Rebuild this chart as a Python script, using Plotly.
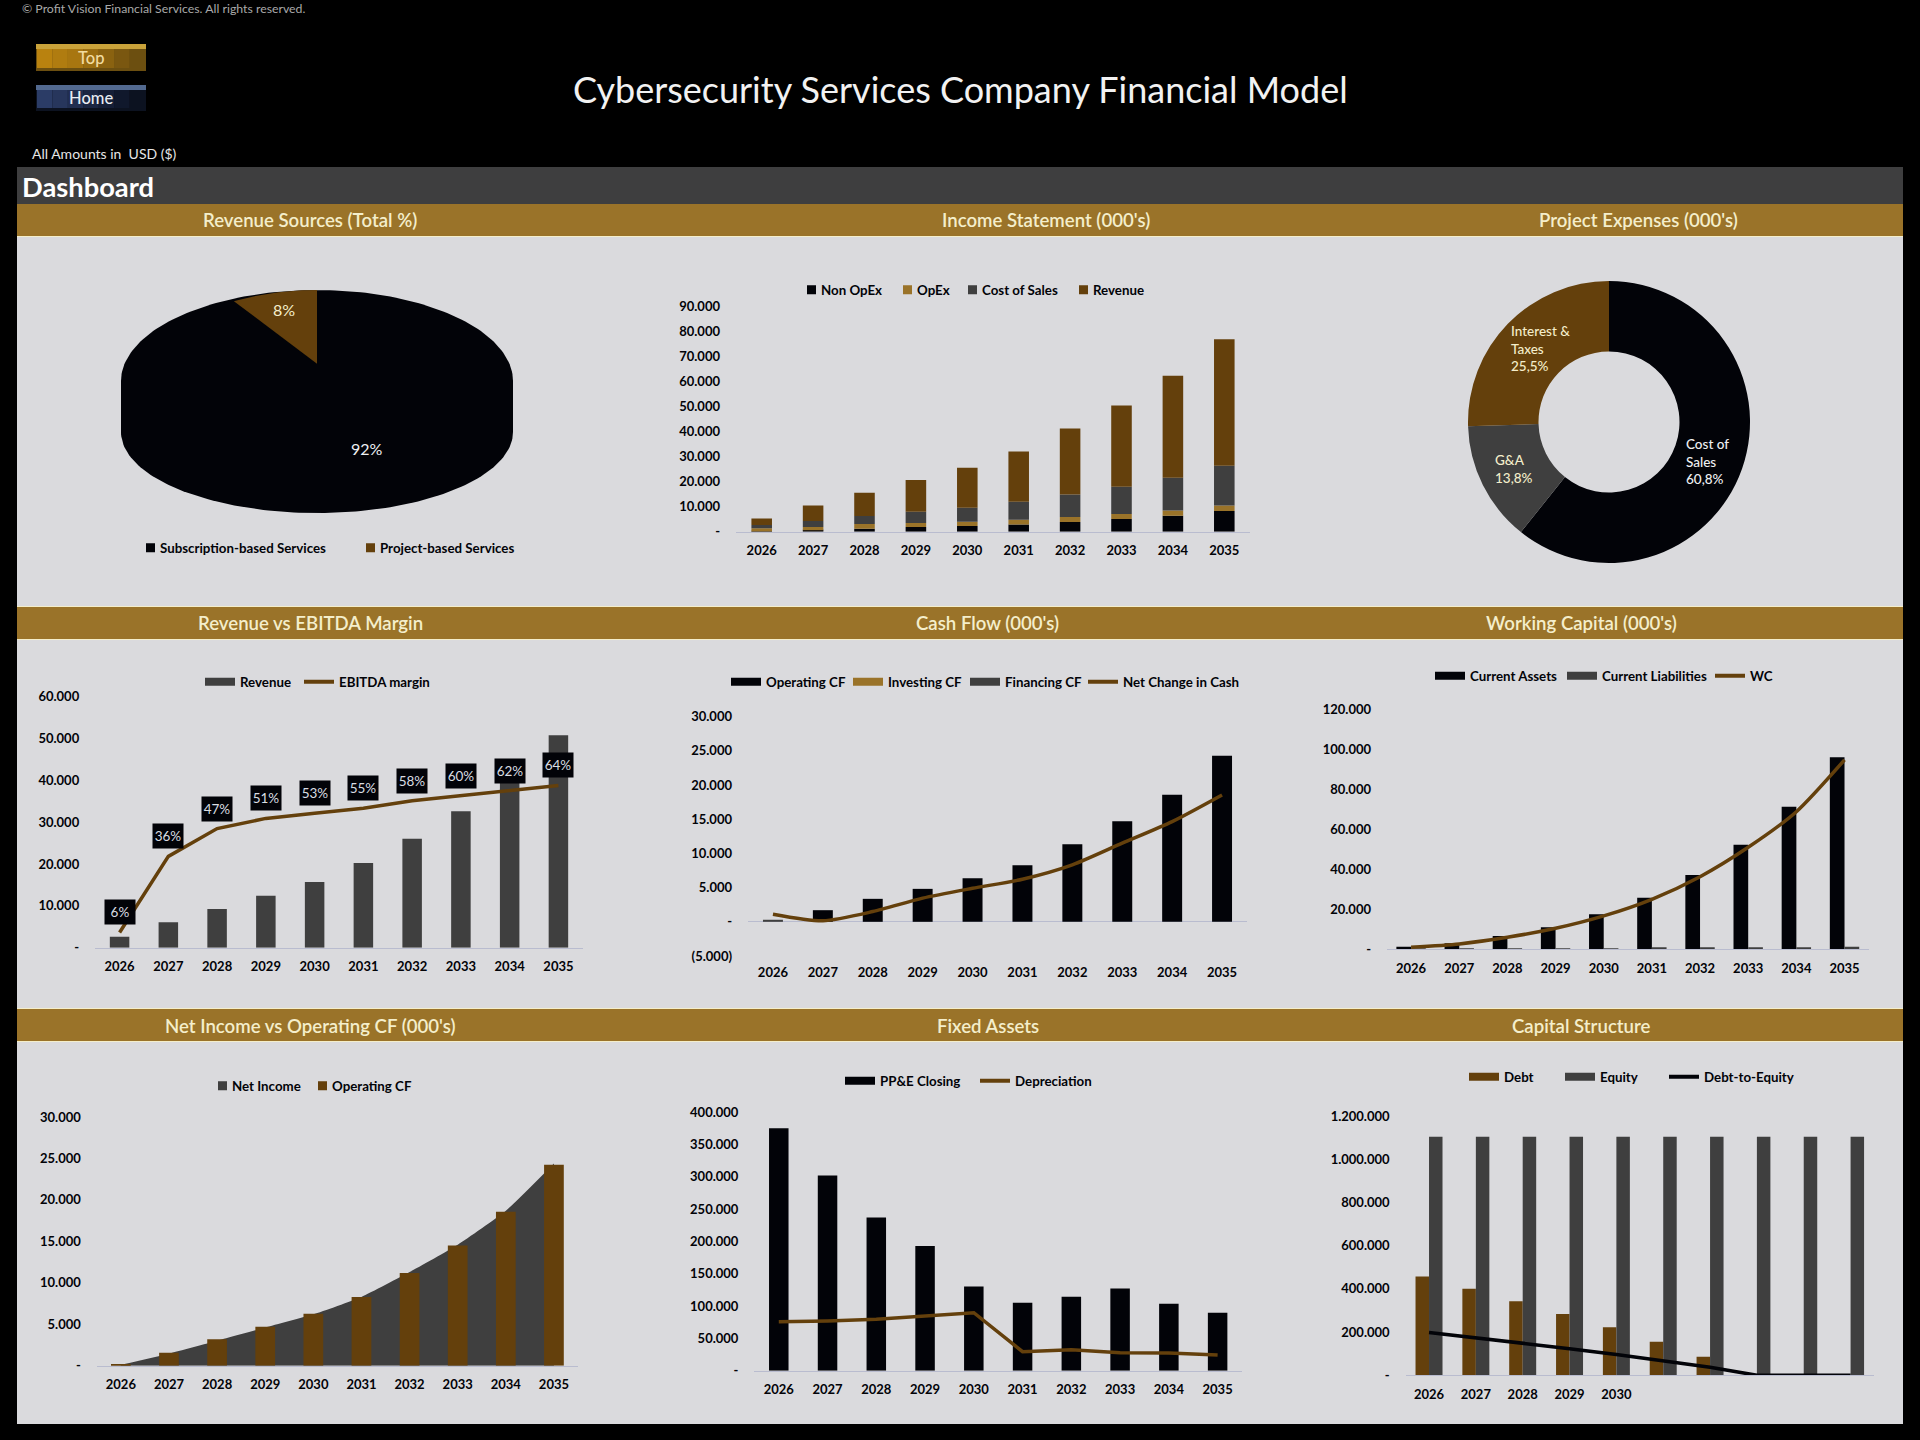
import numpy as np
import plotly.graph_objects as go

# chart data
years = ["2026", "2027", "2028", "2029", "2030", "2031", "2032", "2033", "2034", "2035"]

rev_source_names = ["Subscription-based Services", "Project-based Services"]
rev_source_share = [92, 8]

is_non_opex = [100, 600, 1200, 1900, 2300, 2900, 3900, 5100, 6400, 8300]
is_opex = [1300, 1300, 1900, 1600, 1700, 1900, 2000, 2000, 2100, 2200]
is_cost_of_sales = [1300, 2400, 3200, 4500, 5600, 7200, 9000, 10900, 13100, 15900]
is_revenue = [2600, 6200, 9300, 12700, 16000, 20100, 26400, 32500, 40800, 50600]

expense_names = ["Cost of Sales", "G&A", "Interest & Taxes"]
expense_share = [60.8, 13.8, 25.5]

revenue = [2630, 6060, 9240, 12430, 15700, 20240, 26060, 32600, 40800, 50770]
ebitda_margin = [6, 36, 47, 51, 53, 55, 58, 60, 62, 64]

cf_operating = [0, 1700, 3360, 4820, 6380, 8280, 11340, 14700, 18600, 24300]
cf_investing = [0, 0, 0, 0, 0, 0, 0, 0, 0, 0]
cf_financing = [300, 0, 0, 0, 0, 0, 0, 0, 0, 0]
cf_net_change = [1120, 150, 1500, 3460, 4900, 6230, 8330, 11500, 14650, 18550]

wc_assets = [1300, 3000, 6700, 11000, 17500, 25800, 37200, 52300, 71300, 96000]
wc_liabilities = [100, 200, 300, 400, 450, 600, 700, 900, 1000, 1300]
wc_net = [1000, 2700, 6000, 10500, 16700, 25000, 36300, 51000, 68800, 94700]

net_income = [100, 1450, 3000, 4600, 6200, 8300, 11300, 14600, 18700, 24400]
operating_cf = [120, 1570, 3180, 4700, 6270, 8280, 11180, 14500, 18570, 24240]

ppe_closing = [374800, 302000, 237000, 193000, 130000, 105000, 114500, 127000, 103600, 89700]
depreciation = [75800, 76800, 79400, 84000, 89700, 29400, 32500, 27800, 27300, 24200]

debt = [456700, 401000, 342500, 284000, 222000, 155800, 86400, 0, 0, 0]
equity = [1104000, 1104000, 1104000, 1104000, 1104000, 1104000, 1104000, 1104000, 1104000, 1104000]
debt_to_equity = [0.413, 0.363, 0.31, 0.257, 0.2, 0.14, 0.078, 0, 0, 0]
capital_year_labels = ["2026", "2027", "2028", "2029", "2030", "", "", "", "", ""]

income_ticks = [0, 10000, 20000, 30000, 40000, 50000, 60000, 70000, 80000, 90000]
revenue_ticks = [0, 10000, 20000, 30000, 40000, 50000, 60000]
cash_ticks = [-5000, 0, 5000, 10000, 15000, 20000, 25000, 30000]
wc_ticks = [0, 20000, 40000, 60000, 80000, 100000, 120000]
ni_ticks = [0, 5000, 10000, 15000, 20000, 25000, 30000]
ppe_ticks = [0, 50000, 100000, 150000, 200000, 250000, 300000, 350000, 400000]
capital_ticks = [0, 200000, 400000, 600000, 800000, 1000000, 1200000]

section_titles = [
    "Revenue Sources (Total %)", "Income Statement (000's)", "Project Expenses (000's)",
    "Revenue vs EBITDA Margin", "Cash Flow (000's)", "Working Capital (000's)",
    "Net Income vs Operating CF (000's)", "Fixed Assets", "Capital Structure",
]

BLACK = "#020308"
GREY = "#3f3f3f"
BROWN = "#64400c"
GOLD = "#9a7329"
PALE = "#f4eecb"
PANEL = "#dadadd"
FONT = "Lato"
WIDTH = 1920
HEIGHT = 1440


def px_x(v):
    return v / WIDTH


def px_y(v):
    return 1 - v / HEIGHT


def label(v):
    if v == 0:
        return "-"
    if v < 0:
        return "(" + f"{-v:,}".replace(",", ".") + ")"
    return f"{v:,}".replace(",", ".")


fig = go.Figure()
layout = {}
annotations = []
shapes = []
legend_count = 0


def rect(x0, y0, x1, y1, color):
    shapes.append(dict(type="rect", xref="paper", yref="paper", layer="below",
                       x0=px_x(x0), x1=px_x(x1), y0=px_y(y0), y1=px_y(y1),
                       fillcolor=color, line=dict(width=0)))


def text(x, y, s, size, color, anchor="center", weight=400):
    annotations.append(dict(xref="paper", yref="paper", x=px_x(x), y=px_y(y), text=s,
                            showarrow=False, xanchor=anchor, yanchor="middle", align="left",
                            font=dict(family=FONT, size=size, color=color, weight=weight)))


def button(top, bottom, band, colors):
    # bevelled excel style button, colours step from left to right
    rect(36, top, 146, bottom, colors[-1])
    step = 108 / len(colors)
    for i, c in enumerate(colors):
        rect(37 + i * step, top + 5, 37 + (i + 1) * step, bottom - 3, c)
    rect(36, top, 146, top + 5, band)


def make_axes(n, left, right, top, bottom, ymin, ymax, ticks, tick_labels=None):
    # one cartesian subplot placed by pixel box
    suffix = "" if n == 1 else str(n)
    layout["xaxis" + suffix] = dict(
        domain=[px_x(left), px_x(right)], anchor="y" + suffix, type="category",
        range=[-0.5, 9.5], tickvals=years, ticktext=tick_labels or years,
        showgrid=False, zeroline=False, showline=True, linecolor="#b9bccf", linewidth=1,
        ticks="", ticklabelstandoff=7,
        tickfont=dict(family=FONT, size=13, color=BLACK, weight=700),
    )
    layout["yaxis" + suffix] = dict(
        domain=[px_y(bottom), px_y(top)], anchor="x" + suffix, range=[ymin, ymax],
        tickvals=ticks, ticktext=[label(t) for t in ticks],
        showgrid=False, zeroline=False, showline=False, ticks="", ticklabelstandoff=15,
        tickfont=dict(family=FONT, size=13, color=BLACK, weight=700),
    )


def second_y(n, base, ymin, ymax):
    layout["yaxis" + str(n)] = dict(overlaying="y" + str(base), range=[ymin, ymax], visible=False,
                                    anchor="x" + str(base))


def new_legend(x, y):
    # excel spaces its keys unevenly, so each key gets its own little legend
    global legend_count
    legend_count += 1
    lid = "legend" if legend_count == 1 else "legend" + str(legend_count)
    layout[lid] = dict(
        x=px_x(x), y=px_y(y), xanchor="left", yanchor="middle", orientation="h",
        bgcolor="rgba(0,0,0,0)", itemwidth=30,
        font=dict(family=FONT, size=13.3, color=BLACK, weight=700),
    )
    return lid


def square_key(name, color, x, y):
    # dash pattern leaves only the last bit of the legend line, next to the text
    fig.add_trace(go.Scatter(x=[None], y=[None], name=name, mode="lines", legend=new_legend(x - 26, y),
                             showlegend=True, hoverinfo="skip",
                             line=dict(color=color, width=9, dash="0px,21px,9px,100px")))


def wide_key(name, color, x, y, width=8):
    fig.add_trace(go.Scatter(x=[None], y=[None], name=name, mode="lines", legend=new_legend(x - 5, y),
                             showlegend=True, hoverinfo="skip", line=dict(color=color, width=width)))


def bars(n, y, color, name, width=0.4, offset=-0.2, base=None, yaxis=None):
    suffix = "" if n == 1 else str(n)
    fig.add_trace(go.Bar(x=years, y=y, name=name, base=base, width=width, offset=offset,
                         marker=dict(color=color, line=dict(width=0)), showlegend=False,
                         xaxis="x" + suffix, yaxis=yaxis or "y" + suffix))


def line(n, y, color, name, width=3.5, shape="linear", yaxis=None):
    suffix = "" if n == 1 else str(n)
    fig.add_trace(go.Scatter(x=years, y=y, name=name, mode="lines", showlegend=False,
                             line=dict(color=color, width=width, shape=shape, smoothing=0.7),
                             xaxis="x" + suffix, yaxis=yaxis or "y" + suffix))


# --- page frame ---
rect(17, 167, 1903, 1424, PANEL)
rect(17, 167, 1903, 204, "#3e3e3f")
for top, bottom in [(204, 236), (607, 639), (1009, 1041)]:
    rect(17, top - 1 if top > 204 else top, 1903, bottom + 1, PALE)
    rect(17, top, 1903, bottom, GOLD)

button(44, 71, "#c9a23a", ["#b9820f", "#b07c10", "#a87610", "#9a6d10", "#8a6210", "#7a5710", "#6c4f10"])
button(85, 111, "#52698f", ["#2b3c66", "#27365c", "#212e50", "#1b2642", "#151e36", "#10182c", "#0c1220"])

text(20, 9, "© Profit Vision Financial Services. All rights reserved.", 12.3, "#a9a9a9", "left")
text(91, 58, "Top", 16.5, "#f2dca0", "center", 500)
text(91, 98, "Home", 16.5, "#e8ecf2", "center", 500)
text(960, 89, "Cybersecurity Services Company Financial Model", 36, "#f2f2f2")
text(30, 154, "All Amounts in  USD ($)", 14, "#e6e6e6", "left")
text(20, 187, "Dashboard", 27.3, "#ffffff", "left", 700)

title_x = [310, 1046, 1638, 310, 988, 1581, 310, 988, 1581]
title_y = [220.5, 220.5, 220.5, 623, 623, 623, 1026, 1026, 1026]
for tx, ty, s in zip(title_x, title_y, section_titles):
    text(tx, ty, s, 18.6, PALE, "center", 600)

# --- 1. revenue sources, tilted pie with a side wall ---
make_axes(1, 121, 513, 290, 513, -1.45, 1, [0])
layout["xaxis"] = dict(domain=[px_x(121), px_x(513)], anchor="y", range=[-1, 1], visible=False)
layout["yaxis"].update(visible=False)
wall_drop = 0.56
front = 0.89
t_back = np.linspace(-np.pi / 2, np.pi / 2, 120)
t_front = np.linspace(np.pi / 2, 3 * np.pi / 2, 120)
body_x = list(np.sin(t_back)) + list(np.sin(t_front))
body_y = list(np.cos(t_back)) + list(-wall_drop + front * np.cos(t_front))
fig.add_trace(go.Scatter(x=body_x, y=body_y, fill="toself", fillcolor=BLACK, mode="lines",
                         line=dict(color=BLACK, width=0), showlegend=False,
                         name=rev_source_names[0], xaxis="x", yaxis="y"))
sweep = 2 * np.pi * rev_source_share[1] / sum(rev_source_share)
t_slice = np.linspace(-sweep, 0, 30)
fig.add_trace(go.Scatter(x=[0] + list(0.88 * np.sin(t_slice)) + [0], y=[0.19] + list(np.cos(t_slice)) + [0.19],
                         fill="toself", fillcolor=BROWN, mode="lines", line=dict(color=BROWN, width=0),
                         showlegend=False, name=rev_source_names[1], xaxis="x", yaxis="y"))
text(284, 309, f"{rev_source_share[1]}%", 16, PALE)
text(367, 448, f"{rev_source_share[0]}%", 16, "#eef0f2")
square_key(rev_source_names[0], BLACK, 146, 548)
square_key(rev_source_names[1], BROWN, 366, 548)

# --- 2. income statement, stacked ---
make_axes(2, 736, 1250, 306.7, 531.7, 0, 90000, income_ticks)
is_base1 = [a for a in is_non_opex]
is_base2 = [a + b for a, b in zip(is_base1, is_opex)]
is_base3 = [a + b for a, b in zip(is_base2, is_cost_of_sales)]
bars(2, is_non_opex, BLACK, "Non OpEx")
bars(2, is_opex, GOLD, "OpEx", base=is_base1)
bars(2, is_cost_of_sales, GREY, "Cost of Sales", base=is_base2)
bars(2, is_revenue, BROWN, "Revenue", base=is_base3)
square_key("Non OpEx", BLACK, 807, 290)
square_key("OpEx", GOLD, 903, 290)
square_key("Cost of Sales", GREY, 968, 290)
square_key("Revenue", BROWN, 1079, 290)

# --- 3. project expenses, donut ---
fig.add_trace(go.Pie(labels=expense_names, values=expense_share, hole=0.5, sort=False,
                     direction="clockwise", rotation=0, textinfo="none", showlegend=False,
                     marker=dict(colors=[BLACK, GREY, BROWN], line=dict(width=0)),
                     domain=dict(x=[px_x(1468), px_x(1750)], y=[px_y(563), px_y(281)])))
text(1509, 348, "Interest &<br>Taxes<br>25,5%", 13.5, PALE, "left", 500)
text(1493, 469, "G&A<br>13,8%", 13.5, PALE, "left", 500)
text(1684, 462, "Cost of<br>Sales<br>60,8%", 13.5, "#eef0f2", "left", 500)

# --- 4. revenue vs ebitda margin ---
make_axes(4, 95.2, 582.8, 696.7, 947.7, 0, 60000, revenue_ticks)
second_y(10, 4, 0, 99)
bars(4, revenue, GREY, "Revenue")
line(4, ebitda_margin, BROWN, "EBITDA margin", yaxis="y10")
wide_key("Revenue", GREY, 205, 682)
wide_key("EBITDA margin", BROWN, 304, 682, 4)
for i, m in enumerate(ebitda_margin):
    # category axis: numeric looking labels are read as indexes here
    annotations.append(dict(xref="x4", yref="y10", x=i, y=m, text=f"{m}%", showarrow=False, yshift=20,
                            width=28, height=22, bgcolor=BLACK, valign="middle",
                            font=dict(family=FONT, size=13.5, color="#d9dde2")))

# --- 5. cash flow ---
make_axes(5, 748, 1247, 716.7, 956, -5000, 30000, cash_ticks)
layout["xaxis5"].update(showline=False)
layout["yaxis5"].update(zeroline=True, zerolinecolor="#b9bccf", zerolinewidth=1)
bars(5, cf_operating, BLACK, "Operating CF")
bars(5, cf_investing, GOLD, "Investing CF", base=cf_operating)
bars(5, cf_financing, GREY, "Financing CF", base=cf_operating)
line(5, cf_net_change, BROWN, "Net Change in Cash", shape="spline")
wide_key("Operating CF", BLACK, 731, 682)
wide_key("Investing CF", GOLD, 853, 682)
wide_key("Financing CF", GREY, 970, 682)
wide_key("Net Change in Cash", BROWN, 1088, 682, 4)

# --- 6. working capital ---
make_axes(6, 1387, 1868.6, 709.3, 949.3, 0, 120000, wc_ticks)
bars(6, wc_assets, BLACK, "Current Assets", width=0.305, offset=-0.305)
bars(6, wc_liabilities, GREY, "Current Liabilities", width=0.305, offset=0)
line(6, wc_net, BROWN, "WC", shape="spline")
wide_key("Current Assets", BLACK, 1435, 676)
wide_key("Current Liabilities", GREY, 1567, 676)
wide_key("WC", BROWN, 1715, 676, 4)

# --- 7. net income area behind operating cf bars ---
make_axes(7, 96.8, 578, 1117, 1365.7, 0, 30000, ni_ticks)
second_y(11, 7, 0, 30000)
fig.add_trace(go.Scatter(x=years, y=net_income, name="Net Income", mode="lines", fill="tozeroy",
                         fillcolor=GREY, line=dict(color=GREY, width=0, shape="spline", smoothing=0.5),
                         showlegend=False, xaxis="x7", yaxis="y7"))
bars(7, operating_cf, BROWN, "Operating CF", width=0.41, offset=-0.205, yaxis="y11")
square_key("Net Income", GREY, 218, 1086)
square_key("Operating CF", BROWN, 318, 1086)

# --- 8. fixed assets ---
make_axes(8, 754.4, 1242, 1112, 1370.7, 0, 400000, ppe_ticks)
bars(8, ppe_closing, BLACK, "PP&E Closing")
line(8, depreciation, BROWN, "Depreciation")
wide_key("PP&E Closing", BLACK, 845, 1081)
wide_key("Depreciation", BROWN, 980, 1081, 4)

# --- 9. capital structure ---
make_axes(9, 1405.6, 1874, 1116, 1375.3, 0, 1200000, capital_ticks, capital_year_labels)
second_y(12, 9, 0, 2.5)
bars(9, debt, BROWN, "Debt", width=0.288, offset=-0.288)
bars(9, equity, GREY, "Equity", width=0.288, offset=0)
line(9, debt_to_equity, BLACK, "Debt-to-Equity", yaxis="y12")
wide_key("Debt", BROWN, 1469, 1077)
wide_key("Equity", GREY, 1565, 1077)
wide_key("Debt-to-Equity", BLACK, 1669, 1077, 4)

fig.update_layout(
    width=WIDTH, height=HEIGHT, margin=dict(l=0, r=0, t=0, b=0, autoexpand=False),
    paper_bgcolor="#000000", plot_bgcolor="rgba(0,0,0,0)",
    barmode="overlay", hovermode=False,
    annotations=annotations, shapes=shapes, **layout,
)
fig.write_html("out.html", config={"displayModeBar": False},
               post_script="document.body.style.margin='0';document.documentElement.style.overflow='hidden';")
